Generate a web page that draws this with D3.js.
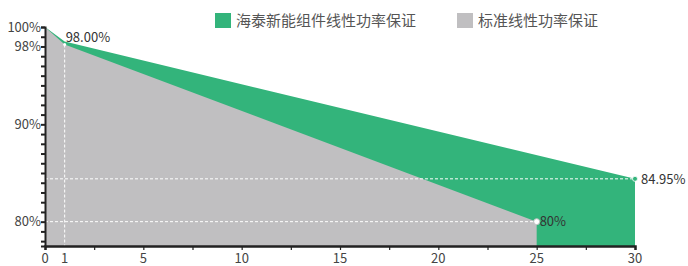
<!DOCTYPE html>
<html>
<head>
<meta charset="utf-8">
<script src="https://cdn.jsdelivr.net/npm/d3@7"></script>
<style>
  body { margin: 0; background: #fff; }
  svg text { font-family: "Noto Sans CJK SC", "Noto Sans", sans-serif; }
</style>
</head>
<body>
<div id="chart"></div>
<script>
// 系列数据 (年份, 功率%)
const seriesNames = ["海泰新能组件线性功率保证", "标准线性功率保证"];
const seriesColors = ["#33b47b", "#c0bfc1"];
const greenYears = [0, 1, 30];
const greenValues = [100, 98.5, 84.4];
const greyYears = [0, 1, 25];
const greyValues = [100, 98.2, 80];

// 数据标签
const pointLabels = ["98.00%", "80%", "84.95%"];

// 坐标轴刻度
const xTicks = [0, 2.5, 5, 7.5, 10, 12.5, 15, 17.5, 20, 22.5, 25, 27.5, 30];
const xTickLabels = [0, 1, 5, 10, 15, 20, 25, 30];
const yTickLabels = [100, 98, 90, 80];

const width = 688, height = 266;
const margin = { top: 27, right: 53, bottom: 20, left: 45 };

const svg = d3.select("#chart").append("svg")
  .attr("width", width)
  .attr("height", height);

const x = d3.scaleLinear().domain([0, 30]).range([margin.left, width - margin.right]);
const y = d3.scaleLinear().domain([77.5, 100]).range([height - margin.bottom, margin.top]);

const green = greenYears.map((d, i) => [d, greenValues[i]]);
const grey = greyYears.map((d, i) => [d, greyValues[i]]);

const area = d3.area()
  .x(d => x(d[0]))
  .y0(y(77.5))
  .y1(d => y(d[1]));

svg.append("path").datum(green).attr("d", area).attr("fill", seriesColors[0]);
svg.append("path").datum(grey).attr("d", area).attr("fill", seriesColors[1]);

// 虚线
const guides = svg.append("g")
  .attr("stroke", "#fff")
  .attr("stroke-width", 1)
  .attr("stroke-dasharray", "3,2");

guides.append("line")
  .attr("x1", x(0)).attr("x2", x(greenYears[2]))
  .attr("y1", y(greenValues[2])).attr("y2", y(greenValues[2]));
guides.append("line")
  .attr("x1", x(0)).attr("x2", x(greyYears[2]))
  .attr("y1", y(greyValues[2])).attr("y2", y(greyValues[2]));
guides.append("line")
  .attr("x1", x(greyYears[1])).attr("x2", x(greyYears[1]))
  .attr("y1", y(greyValues[1])).attr("y2", y(77.5));

// X 轴
const xAxis = svg.append("g")
  .attr("transform", `translate(0,${y(77.5)})`)
  .call(d3.axisBottom(x).tickValues(xTicks).tickSize(4).tickFormat(""));
xAxis.select(".domain").attr("stroke", "#222").attr("stroke-width", 2.5);
xAxis.selectAll(".tick line").attr("stroke", "#222").attr("stroke-width", 1.2);

svg.append("g").selectAll("text")
  .data(xTickLabels)
  .join("text")
  .attr("x", d => x(d))
  .attr("y", y(77.5) + 17)
  .attr("text-anchor", "middle")
  .attr("font-size", 13)
  .attr("fill", "#444")
  .text(d => d);

// Y 轴
const yAxis = svg.append("g")
  .attr("transform", `translate(${x(0)},0)`)
  .call(d3.axisLeft(y).tickValues(d3.range(78, 101)).tickSize(4).tickFormat(""));
yAxis.select(".domain").attr("stroke", "#222").attr("stroke-width", 2);
yAxis.selectAll(".tick line").attr("stroke", "#222").attr("stroke-width", 2);

svg.append("g").selectAll("text")
  .data(yTickLabels)
  .join("text")
  .attr("x", x(0) - 4)
  .attr("y", d => y(d))
  .attr("dy", "0.35em")
  .attr("text-anchor", "end")
  .attr("font-size", 13)
  .attr("fill", "#444")
  .text(d => d + "%");

// 数据点
svg.append("circle")
  .attr("cx", x(greenYears[2])).attr("cy", y(greenValues[2]))
  .attr("r", 2.5).attr("fill", seriesColors[0])
  .attr("stroke", "#fff").attr("stroke-width", 0.8);
svg.append("circle")
  .attr("cx", x(greyYears[2])).attr("cy", y(greyValues[2]))
  .attr("r", 3).attr("fill", "#fff")
  .attr("stroke", seriesColors[1]).attr("stroke-width", 1);
svg.append("circle")
  .attr("cx", x(greyYears[1])).attr("cy", y(greyValues[1]))
  .attr("r", 1.5).attr("fill", "#fff");

// 数据标签
const labelPos = [
  [greyYears[1], greyValues[1], 1, -7],
  [greyYears[2], greyValues[2], 3, 0],
  [greenYears[2], greenValues[2], 6, 1]
];
svg.append("g").selectAll("text")
  .data(labelPos)
  .join("text")
  .attr("x", d => x(d[0]) + d[2])
  .attr("y", d => y(d[1]) + d[3])
  .attr("dy", "0.35em")
  .attr("font-size", 13)
  .attr("fill", "#333")
  .text((d, i) => pointLabels[i]);

// 图例
const legendX = [215, 457];
const legend = svg.append("g").selectAll("g")
  .data(seriesNames)
  .join("g")
  .attr("transform", (d, i) => `translate(${legendX[i]},13)`);
legend.append("rect")
  .attr("width", 16).attr("height", 15)
  .attr("fill", (d, i) => seriesColors[i]);
legend.append("text")
  .attr("x", 21).attr("y", 8)
  .attr("dy", "0.35em")
  .attr("font-size", 15)
  .attr("fill", "#555")
  .text(d => d);
</script>
</body>
</html>
